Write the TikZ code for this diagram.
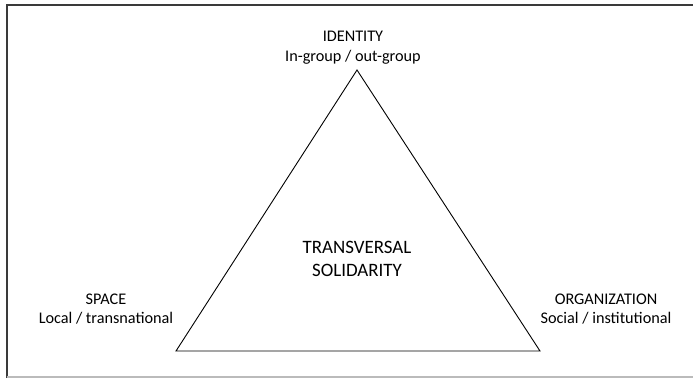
\documentclass[tikz,border=0pt]{standalone}
\usepackage{fontspec}
\setmainfont{Carlito}
\usetikzlibrary{positioning}
\definecolor{framegray}{HTML}{3A3A3A}
\definecolor{lightframe}{HTML}{BBBBBB}

\begin{document}
\begin{tikzpicture}[x=1bp,y=-1bp,every node/.style={align=center,text=black},
  cornertext/.style={font=\fontsize{16.3}{19.5}\selectfont},
  centertext/.style={font=\fontsize{19}{23}\selectfont}]
\useasboundingbox (0,0) rectangle (693,378);
% frame of the screenshot
\draw[framegray,line width=2bp] (6.5,378) -- (6.5,5) -- (693,5);
\draw[lightframe,line width=2bp] (6.5,377) -- (693,377);
% corners of the triangle
\coordinate (top) at (357,70);
\coordinate (left) at (176,351);
\coordinate (right) at (540,351);
\draw[line width=0.9bp] (top) -- (left) -- (right) -- cycle;
\node[cornertext] (identity) at (353,47.5) {IDENTITY\\In-group / out-group};
\node[cornertext] (space) at (106,309) {SPACE\\Local / transnational};
\node[cornertext] (organization) at (606,309) {ORGANIZATION\\Social / institutional};
\node[centertext] (solidarity) at (357,258.5) {TRANSVERSAL\\SOLIDARITY};
\end{tikzpicture}
\end{document}
